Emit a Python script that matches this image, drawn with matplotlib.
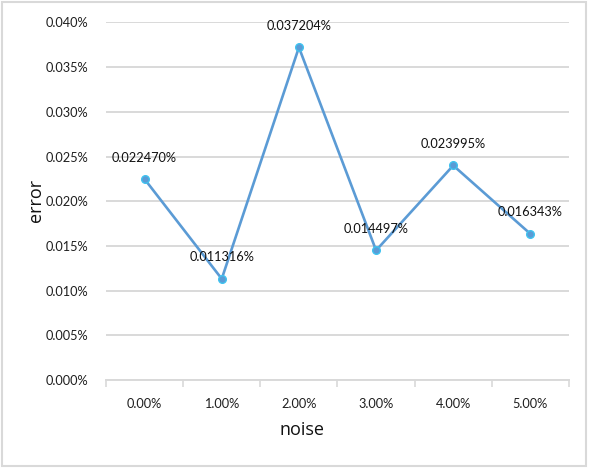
import matplotlib
matplotlib.use("Agg")
import matplotlib.pyplot as plt
from matplotlib.patches import Rectangle

categories = ["0.00%", "1.00%", "2.00%", "3.00%", "4.00%", "5.00%"]
error_pct = [0.022470, 0.011316, 0.037204, 0.014497, 0.023995, 0.016343]
point_labels = ["0.022470%", "0.011316%", "0.037204%", "0.014497%", "0.023995%", "0.016343%"]
y_ticks = [0.000, 0.005, 0.010, 0.015, 0.020, 0.025, 0.030, 0.035, 0.040]

plt.rcParams['font.family'] = ['Lato', 'DejaVu Sans']

fig = plt.figure(figsize=(5.89, 4.71), dpi=100)
ax = fig.add_axes([106/589, 1 - 380/471, (569 - 106)/589, (380 - 22.4)/471])

# outer frame
fig.patches.append(Rectangle((2/589, 1 - 466/471), 584/589, 464/471,
                             transform=fig.transFigure, fill=False,
                             edgecolor="#D9D9D9", linewidth=1.5))

x = list(range(len(categories)))
ax.plot(x, error_pct, color="#5B9BD5", linewidth=1.9, marker="o",
        markersize=5.5, markerfacecolor="#5B9BD5", markeredgecolor="#3FC3F0",
        markeredgewidth=1.0, zorder=3)

for xi, yi, lab in zip(x, error_pct, point_labels):
    ax.annotate(lab, (xi, yi), xytext=(0, 15.5), textcoords="offset points",
                ha="center", va="center", fontsize=9.2, color="#111111", zorder=4)

ax.set_xlim(-0.5, len(categories) - 0.5)
ax.set_ylim(0, 0.040)
ax.set_yticks(y_ticks)
ax.set_yticklabels([f"{v:.3f}%" for v in y_ticks], fontsize=9.2, color="#1f1f1f")
ax.yaxis.grid(True, color="#D9D9D9", linewidth=1.4)
ax.set_axisbelow(True)
ax.tick_params(axis="y", length=0, pad=13)

ax.set_xticks(x)
ax.set_xticklabels(categories, fontsize=9.2, color="#1f1f1f")
ax.tick_params(axis="x", length=0, pad=13)
# category boundary tick marks
ax.set_xticks([i - 0.5 for i in range(len(categories) + 1)], minor=True)
ax.tick_params(axis="x", which="minor", length=5, width=1.2, color="#D9D9D9", direction="out")

for s in ["top", "right", "left"]:
    ax.spines[s].set_visible(False)
ax.spines["bottom"].set_color("#D9D9D9")
ax.spines["bottom"].set_linewidth(1.4)

ax.set_xlabel("noise", fontsize=13, color="#111111", va="center",
              family=["Open Sans", "DejaVu Sans"])
ax.set_ylabel("error", fontsize=13, color="#111111", va="center",
              family=["Open Sans", "DejaVu Sans"])
ax.xaxis.set_label_coords((302 - 106) / 463, (380 - 430) / 357.6)
ax.yaxis.set_label_coords((36 - 106) / 463, (380 - 200) / 357.6)

fig.savefig("out.png", dpi=100)
